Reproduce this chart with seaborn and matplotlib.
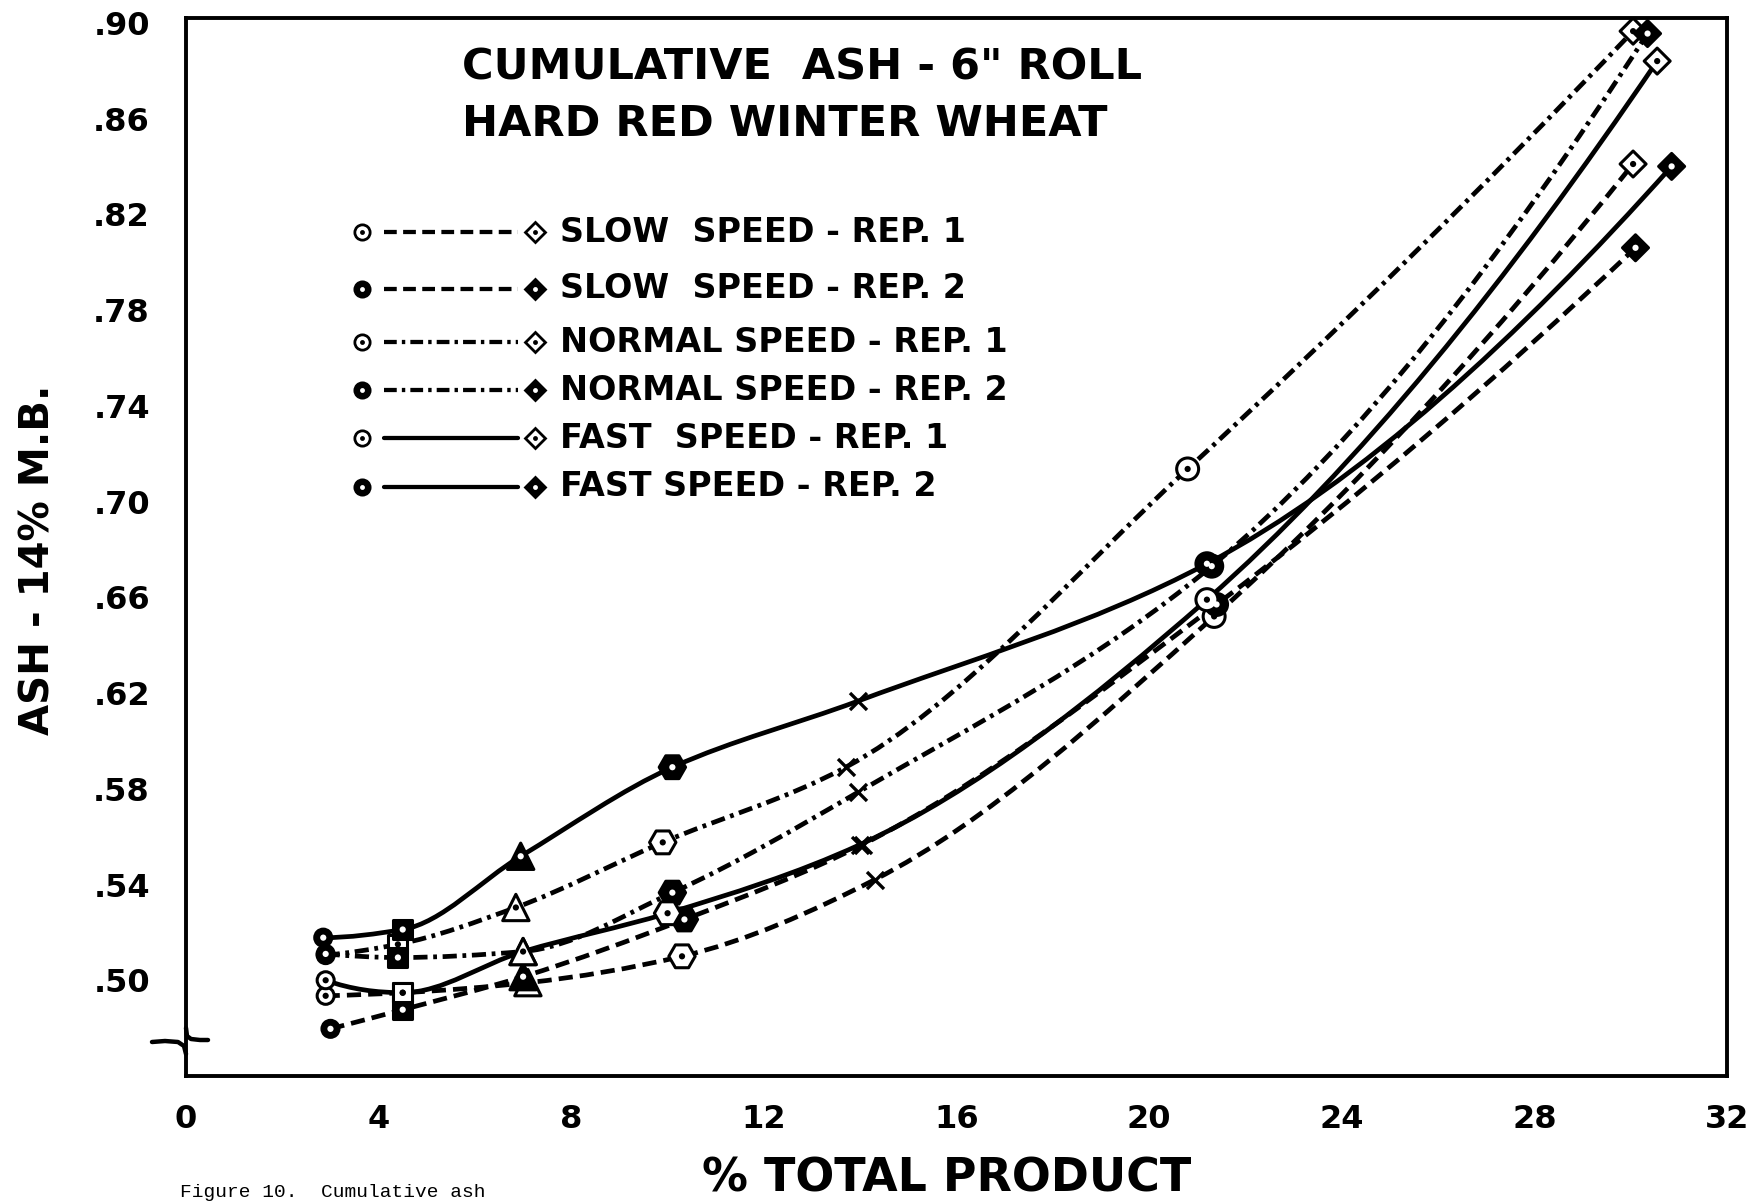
import matplotlib
matplotlib.use("Agg")
import matplotlib.pyplot as plt
import numpy as np
import pandas as pd
import seaborn as sns
from matplotlib.path import Path
from matplotlib.patches import PathPatch


STAGES = ["start", "square", "triangle", "hexagon", "cross", "middle", "end"]
SERIES = ["slow_1", "slow_2", "normal_1", "normal_2", "fast_1", "fast_2"]
LEGEND_TEXT = [
    "SLOW  SPEED - REP. 1",
    "SLOW  SPEED - REP. 2",
    "NORMAL SPEED - REP. 1",
    "NORMAL SPEED - REP. 2",
    "FAST  SPEED - REP. 1",
    "FAST SPEED - REP. 2",
]

SLOW_1_X = [2.9, 4.5, 7.1, 10.3, 14.3, 21.35, 30.05]
SLOW_1_Y = [0.4935, 0.4948, 0.499, 0.510, 0.542, 0.652, 0.841]
SLOW_2_X = [3.0, 4.5, 7.0, 10.35, 14.05, 21.4, 30.1]
SLOW_2_Y = [0.4797, 0.4877, 0.5015, 0.5254, 0.5567, 0.657, 0.806]
NORMAL_1_X = [2.9, 4.4, 6.85, 9.9, 13.7, 20.8, 30.05]
NORMAL_1_Y = [0.5105, 0.515, 0.5304, 0.5576, 0.589, 0.7136, 0.8965]
NORMAL_2_X = [2.9, 4.4, 7.0, 10.1, 13.95, 21.3, 30.35]
NORMAL_2_Y = [0.511, 0.5095, 0.512, 0.5366, 0.5785, 0.673, 0.8955]
FAST_1_X = [2.9, 4.5, 7.0, 10.0, 14.0, 21.2, 30.55]
FAST_1_Y = [0.500, 0.4948, 0.512, 0.528, 0.5567, 0.659, 0.884]
FAST_2_X = [2.85, 4.5, 6.95, 10.1, 13.95, 21.2, 30.85]
FAST_2_Y = [0.5178, 0.5212, 0.5518, 0.589, 0.6166, 0.674, 0.840]

X_TICKS = [0, 4, 8, 12, 16, 20, 24, 28, 32]
Y_TICKS = [0.50, 0.54, 0.58, 0.62, 0.66, 0.70, 0.74, 0.78, 0.82, 0.86, 0.90]
Y_TICK_LABELS = [".50", ".54", ".58", ".62", ".66", ".70", ".74", ".78", ".82", ".86", ".90"]

SERIE_DATA = {
    "slow_1": (SLOW_1_X, SLOW_1_Y),
    "slow_2": (SLOW_2_X, SLOW_2_Y),
    "normal_1": (NORMAL_1_X, NORMAL_1_Y),
    "normal_2": (NORMAL_2_X, NORMAL_2_Y),
    "fast_1": (FAST_1_X, FAST_1_Y),
    "fast_2": (FAST_2_X, FAST_2_Y),
}

LW = 3.4
STREK = {
    "slow": (0, (3.0, 1.5)),
    "normal": (0, (3.0, 1.2, 0.8, 1.2)),
    "fast": "solid",
}
MARKORER = {"start": "o", "square": "s", "triangle": "^", "hexagon": "H", "middle": "o", "end": "D"}
STORRELSER = {"start": 150, "square": 190, "triangle": 360, "hexagon": 360, "middle": 250, "end": 175}

W, H = 1747, 1204


def fx(px):
    return px / W


def fy(py):
    return 1 - py / H


def stigninger(x, y):
    # monoton kubisk hermite (pchip) for jevne kurver gjennom punktene
    h = np.diff(x)
    d = np.diff(y) / h
    m = np.zeros_like(y)
    for k in range(1, len(x) - 1):
        if d[k - 1] * d[k] <= 0:
            m[k] = 0.0
        else:
            w1 = 2 * h[k] + h[k - 1]
            w2 = h[k] + 2 * h[k - 1]
            m[k] = (w1 + w2) / (w1 / d[k - 1] + w2 / d[k])
    m[0] = ((2 * h[0] + h[1]) * d[0] - h[0] * d[1]) / (h[0] + h[1])
    if np.sign(m[0]) != np.sign(d[0]):
        m[0] = 0.0
    m[-1] = ((2 * h[-1] + h[-2]) * d[-1] - h[-1] * d[-2]) / (h[-1] + h[-2])
    if np.sign(m[-1]) != np.sign(d[-1]):
        m[-1] = 0.0
    return m


def tegn_kurve(ax, x, y, linestyle):
    x = np.asarray(x, dtype=float)
    y = np.asarray(y, dtype=float)
    m = stigninger(x, y)
    verts = [(x[0], y[0])]
    codes = [Path.MOVETO]
    for i in range(len(x) - 1):
        h = x[i + 1] - x[i]
        verts += [
            (x[i] + h / 3, y[i] + m[i] * h / 3),
            (x[i + 1] - h / 3, y[i + 1] - m[i + 1] * h / 3),
            (x[i + 1], y[i + 1]),
        ]
        codes += [Path.CURVE4] * 3
    patch = PathPatch(Path(verts, codes), fill=False, edgecolor="black", linewidth=LW,
                      linestyle=linestyle, capstyle="butt", zorder=2)
    ax.add_patch(patch)


def lag_tabell():
    rader = []
    for serie in SERIES:
        xs, ys = SERIE_DATA[serie]
        for stage, x, y in zip(STAGES, xs, ys):
            rader.append({"serie": serie, "rep": serie[-1], "stage": stage, "x": x, "y": y})
    return pd.DataFrame(rader)


def tegn_legend(fig):
    rader_y = [232, 289, 342, 390, 438, 487]
    for i, (serie, tekst) in enumerate(zip(SERIES, LEGEND_TEXT)):
        yy = fy(rader_y[i])
        fylt = serie.endswith("2")
        fart = serie.split("_")[0]
        fig.add_artist(plt.Line2D([fx(384), fx(518)], [yy, yy], transform=fig.transFigure,
                                  color="black", linewidth=LW * 0.9, linestyle=STREK[fart],
                                  dash_capstyle="butt"))
        face = "black" if fylt else "white"
        dot = "white" if fylt else "black"
        fig.add_artist(plt.Line2D([fx(362)], [yy], transform=fig.transFigure, marker="o",
                                  markersize=11, markerfacecolor=face, markeredgecolor="black",
                                  markeredgewidth=2))
        fig.add_artist(plt.Line2D([fx(362)], [yy], transform=fig.transFigure, marker="o",
                                  markersize=3.5, markerfacecolor=dot, markeredgewidth=0))
        fig.add_artist(plt.Line2D([fx(535)], [yy], transform=fig.transFigure, marker="D",
                                  markersize=10, markerfacecolor=face, markeredgecolor="black",
                                  markeredgewidth=2))
        fig.add_artist(plt.Line2D([fx(535)], [yy], transform=fig.transFigure, marker="o",
                                  markersize=3.5, markerfacecolor=dot, markeredgewidth=0))
        fig.text(fx(560), yy, tekst, fontsize=24, fontweight="bold", ha="left", va="center")


def main():
    sns.set_theme(style="white")
    plt.rcParams["font.family"] = ["DejaVu Sans"]
    plt.rcParams["text.color"] = "black"
    plt.rcParams["axes.labelcolor"] = "black"

    df = lag_tabell()

    fig = plt.figure(figsize=(W / 100, H / 100), dpi=100)
    ax = fig.add_axes([fx(186), 1 - 1076 / H, (1727 - 186) / W, (1076 - 18) / H])

    for serie in SERIES:
        xs, ys = SERIE_DATA[serie]
        tegn_kurve(ax, xs, ys, STREK[serie.split("_")[0]])

    fylte = df[df["stage"] != "cross"]
    sns.scatterplot(data=fylte, x="x", y="y", style="stage", markers=MARKORER,
                    size="stage", sizes=STORRELSER, hue="rep",
                    palette={"1": "white", "2": "black"}, edgecolor="black",
                    linewidth=2.2, legend=False, zorder=3, ax=ax)
    sns.scatterplot(data=fylte, x="x", y="y", hue="rep", palette={"1": "black", "2": "white"},
                    s=20, linewidth=0, legend=False, zorder=4, ax=ax)
    kryss = df[df["stage"] == "cross"]
    sns.scatterplot(data=kryss, x="x", y="y", marker="x", color="black", s=150,
                    linewidth=2.4, legend=False, zorder=3, ax=ax)

    ax.set_xlim(0, 32)
    ax.set_ylim(0.46, 0.902)
    ax.set_xticks(X_TICKS)
    ax.set_xticklabels([str(t) for t in X_TICKS])
    ax.set_yticks(Y_TICKS)
    ax.set_yticklabels(Y_TICK_LABELS)
    ax.tick_params(axis="both", direction="in", length=12, width=2.2, labelsize=23,
                   colors="black")
    ax.tick_params(axis="x", pad=20)
    ax.tick_params(axis="y", pad=26)
    for lab in ax.get_xticklabels() + ax.get_yticklabels():
        lab.set_fontweight("bold")
    ax.set_xlabel("")
    ax.set_ylabel("")
    for spine in ax.spines.values():
        spine.set_linewidth(2.8)
        spine.set_color("black")

    # brudd i y-aksen
    fig.add_artist(plt.Line2D([fx(186), fx(187), fx(191), fx(200), fx(208)],
                              [fy(1028), fy(1036), fy(1039), fy(1040), fy(1040)],
                              transform=fig.transFigure, color="black", linewidth=3.2))
    fig.add_artist(plt.Line2D([fx(152), fx(165), fx(178), fx(184), fx(186)],
                              [fy(1042), fy(1041), fy(1042), fy(1046), fy(1054)],
                              transform=fig.transFigure, color="black", linewidth=3.2))

    fig.text(fx(462), fy(68), 'CUMULATIVE  ASH - 6" ROLL', fontsize=31, fontweight="bold",
             ha="left", va="center")
    fig.text(fx(462), fy(124), "HARD RED WINTER WHEAT", fontsize=31, fontweight="bold",
             ha="left", va="center")
    tegn_legend(fig)

    fig.text(fx(39), fy(560), "ASH - 14% M.B.", rotation=90, fontsize=29, fontweight="bold",
             ha="center", va="center")
    fig.text(fx(947), fy(1179), "% TOTAL PRODUCT", fontsize=33, fontweight="bold",
             ha="center", va="center")
    fig.text(fx(180), fy(1201), "Figure 10.  Cumulative ash", fontsize=14,
             family=["Liberation Mono", "DejaVu Sans Mono"], ha="left", va="bottom")

    fig.savefig("out.png", dpi=100, facecolor="white")
    plt.close(fig)


if __name__ == "__main__":
    main()
